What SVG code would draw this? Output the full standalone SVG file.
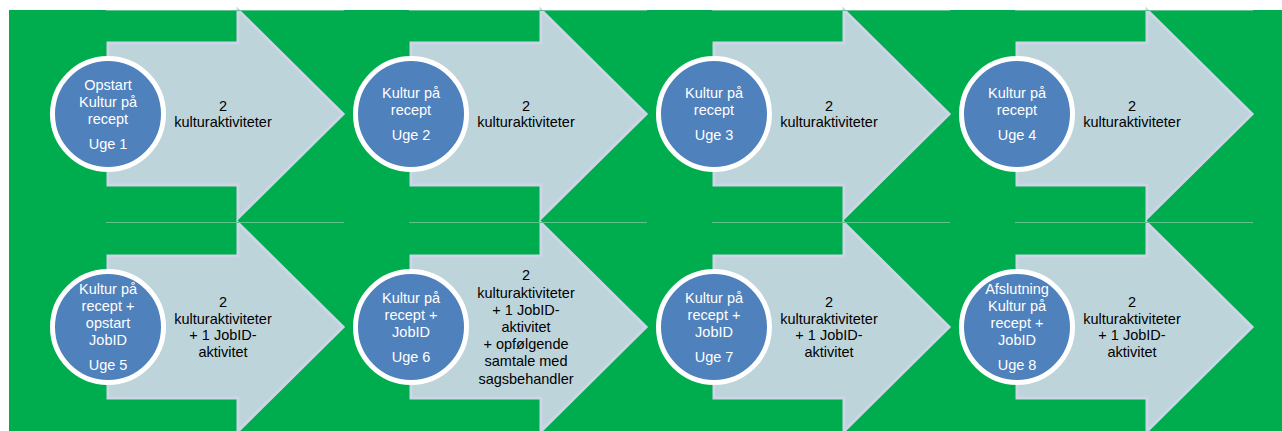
<svg xmlns="http://www.w3.org/2000/svg" xmlns:xlink="http://www.w3.org/1999/xlink" width="1282" height="431" viewBox="0 0 1282 431">
<style>
.bg{fill:#00AD4E}
.arrow{fill:#BDD4DB;stroke:#CCD6E6;stroke-width:3;stroke-linejoin:miter}
.circ{fill:#4F81BD;stroke:#FFFFFF;stroke-width:5}
.ct{font-family:"Liberation Sans",Arial,sans-serif;font-size:14.5px;fill:#FFFFFF;text-anchor:middle}
.at{font-family:"Liberation Sans",Arial,sans-serif;font-size:14.5px;fill:#000000;text-anchor:middle}
.grid{stroke:#5EC38D;stroke-width:1;fill:none}
</style>
<defs>
<path id="arr" d="M0,-71 H130 V-104 L235,0 L130,104 V71 H0 Z"/>
</defs>
<rect x="0" y="0" width="1282" height="431" fill="#FFFFFF"/>
<rect class="bg" x="9" y="10" width="1273" height="421"/>

<g id="step1" transform="translate(108,114)">
<use xlink:href="#arr" class="arrow"/>
<circle class="circ" cx="0" cy="0" r="55.5"/>
<text class="ct"><tspan x="0" y="-24.5">Opstart</tspan><tspan x="0" y="-7.5">Kultur på</tspan><tspan x="0" y="9.5">recept</tspan><tspan x="0" y="34.5">Uge 1</tspan></text>
<text class="at"><tspan x="115" y="-3.4">2</tspan><tspan x="115" y="13.4">kulturaktiviteter</tspan></text>
</g>

<g id="step2" transform="translate(411,114)">
<use xlink:href="#arr" class="arrow"/>
<circle class="circ" cx="0" cy="0" r="55.5"/>
<text class="ct"><tspan x="0" y="-16">Kultur på</tspan><tspan x="0" y="1">recept</tspan><tspan x="0" y="26">Uge 2</tspan></text>
<text class="at"><tspan x="115" y="-3.4">2</tspan><tspan x="115" y="13.4">kulturaktiviteter</tspan></text>
</g>

<g id="step3" transform="translate(714,114)">
<use xlink:href="#arr" class="arrow"/>
<circle class="circ" cx="0" cy="0" r="55.5"/>
<text class="ct"><tspan x="0" y="-16">Kultur på</tspan><tspan x="0" y="1">recept</tspan><tspan x="0" y="26">Uge 3</tspan></text>
<text class="at"><tspan x="115" y="-3.4">2</tspan><tspan x="115" y="13.4">kulturaktiviteter</tspan></text>
</g>

<g id="step4" transform="translate(1017,114)">
<use xlink:href="#arr" class="arrow"/>
<circle class="circ" cx="0" cy="0" r="55.5"/>
<text class="ct"><tspan x="0" y="-16">Kultur på</tspan><tspan x="0" y="1">recept</tspan><tspan x="0" y="26">Uge 4</tspan></text>
<text class="at"><tspan x="115" y="-3.4">2</tspan><tspan x="115" y="13.4">kulturaktiviteter</tspan></text>
</g>

<g id="step5" transform="translate(108,327)">
<use xlink:href="#arr" class="arrow"/>
<circle class="circ" cx="0" cy="0" r="55.5"/>
<text class="ct"><tspan x="0" y="-33">Kultur på</tspan><tspan x="0" y="-16">recept +</tspan><tspan x="0" y="1">opstart</tspan><tspan x="0" y="18">JobID</tspan><tspan x="0" y="43">Uge 5</tspan></text>
<text class="at"><tspan x="115" y="-20.2">2</tspan><tspan x="115" y="-3.4">kulturaktiviteter</tspan><tspan x="115" y="13.4">+ 1 JobID-</tspan><tspan x="115" y="30.2">aktivitet</tspan></text>
</g>

<g id="step6" transform="translate(411,327)">
<use xlink:href="#arr" class="arrow"/>
<circle class="circ" cx="0" cy="0" r="55.5"/>
<text class="ct"><tspan x="0" y="-24.5">Kultur på</tspan><tspan x="0" y="-7.5">recept +</tspan><tspan x="0" y="9.5">JobID</tspan><tspan x="0" y="34.5">Uge 6</tspan></text>
<text class="at"><tspan x="115" y="-46.6">2</tspan><tspan x="115" y="-29.4">kulturaktiviteter</tspan><tspan x="115" y="-12.2">+ 1 JobID-</tspan><tspan x="115" y="5">aktivitet</tspan><tspan x="115" y="22.2">+ opfølgende</tspan><tspan x="115" y="39.4">samtale med</tspan><tspan x="115" y="56.6">sagsbehandler</tspan></text>
</g>

<g id="step7" transform="translate(714,327)">
<use xlink:href="#arr" class="arrow"/>
<circle class="circ" cx="0" cy="0" r="55.5"/>
<text class="ct"><tspan x="0" y="-24.5">Kultur på</tspan><tspan x="0" y="-7.5">recept +</tspan><tspan x="0" y="9.5">JobID</tspan><tspan x="0" y="34.5">Uge 7</tspan></text>
<text class="at"><tspan x="115" y="-20.2">2</tspan><tspan x="115" y="-3.4">kulturaktiviteter</tspan><tspan x="115" y="13.4">+ 1 JobID-</tspan><tspan x="115" y="30.2">aktivitet</tspan></text>
</g>

<g id="step8" transform="translate(1017,327)">
<use xlink:href="#arr" class="arrow"/>
<circle class="circ" cx="0" cy="0" r="55.5"/>
<text class="ct"><tspan x="0" y="-33">Afslutning</tspan><tspan x="0" y="-16">Kultur på</tspan><tspan x="0" y="1">recept +</tspan><tspan x="0" y="18">JobID</tspan><tspan x="0" y="43">Uge 8</tspan></text>
<text class="at"><tspan x="115" y="-20.2">2</tspan><tspan x="115" y="-3.4">kulturaktiviteter</tspan><tspan x="115" y="13.4">+ 1 JobID-</tspan><tspan x="115" y="30.2">aktivitet</tspan></text>
</g>

<g id="connectors" class="grid">
<path d="M106,10.5 H344 M409,10.5 H647 M712,10.5 H950 M1015,10.5 H1253"/>
<path d="M106,222.5 H344 M409,222.5 H647 M712,222.5 H950 M1015,222.5 H1253"/>
</g>
</svg>
